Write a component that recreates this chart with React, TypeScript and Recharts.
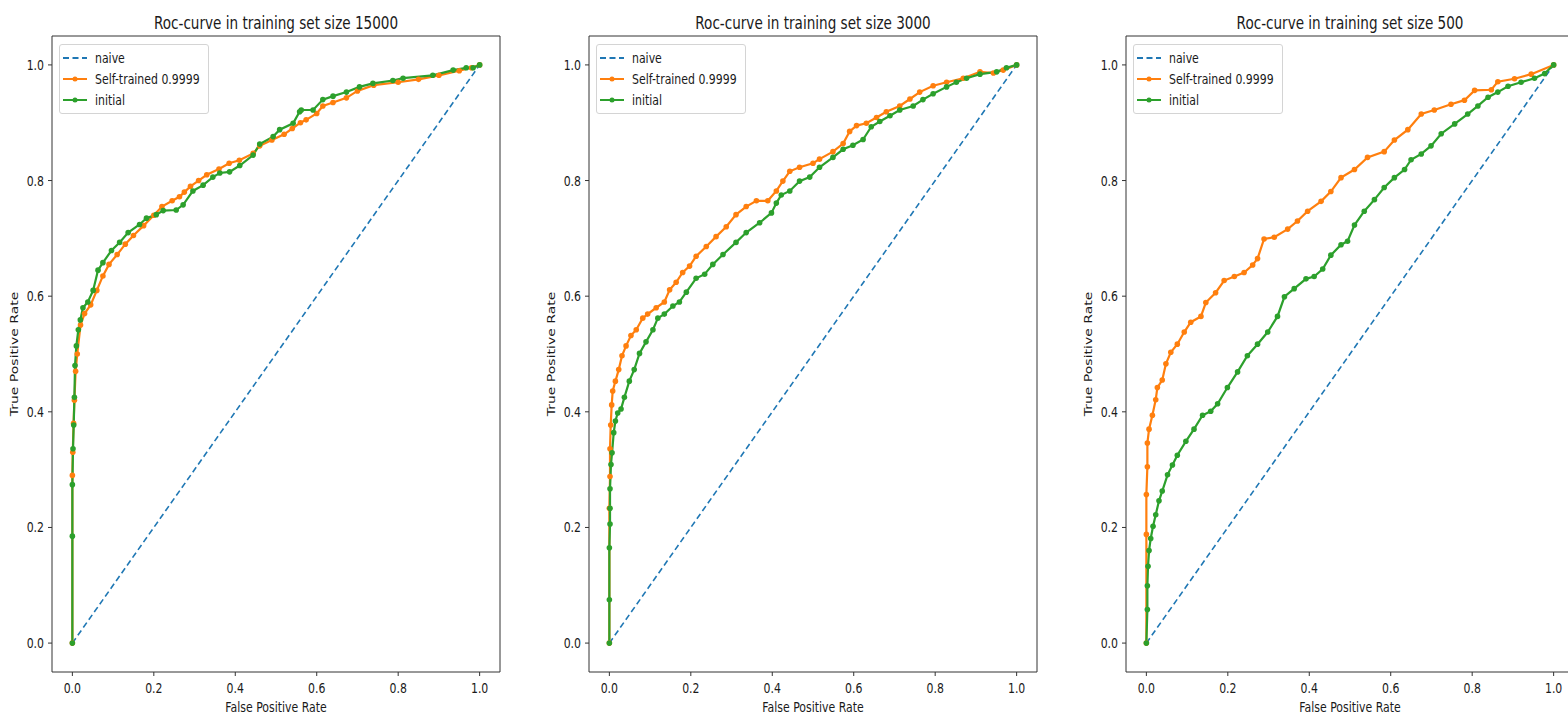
import React from 'react';
import { LineChart, Line, XAxis, YAxis, ReferenceArea, Legend } from 'recharts';

// ---------- data ----------
const naiveFpr = [0, 1];
const naiveTpr = [0, 1];

// training set size 15000
const fpr15000Self = [
  0, 0, 0.001, 0.003, 0.005, 0.008, 0.012, 0.02, 0.03, 0.045,
  0.06, 0.075, 0.09, 0.11, 0.13, 0.15, 0.175, 0.2, 0.22, 0.245,
  0.263, 0.275, 0.29, 0.31, 0.33, 0.36, 0.385, 0.41, 0.444, 0.46,
  0.49, 0.52, 0.54, 0.56, 0.574, 0.6, 0.615, 0.64, 0.673, 0.7,
  0.74, 0.8, 0.85, 0.9, 0.95, 0.98, 1,
];
const tpr15000Self = [
  0, 0.29, 0.33, 0.38, 0.42, 0.47, 0.5, 0.55, 0.57, 0.585,
  0.61, 0.635, 0.655, 0.672, 0.69, 0.705, 0.722, 0.74, 0.755, 0.765,
  0.772, 0.78, 0.79, 0.8, 0.81, 0.82, 0.83, 0.835, 0.847, 0.86,
  0.87, 0.88, 0.89, 0.9, 0.905, 0.916, 0.929, 0.935, 0.943, 0.955,
  0.965, 0.97, 0.975, 0.982, 0.99, 0.995, 1,
];
const fpr15000Init = [
  0, 0, 0, 0.0016, 0.0033, 0.005, 0.0065, 0.0098, 0.0147, 0.0196,
  0.026, 0.038, 0.051, 0.063, 0.075, 0.096, 0.116, 0.137, 0.165, 0.182,
  0.206, 0.223, 0.255, 0.272, 0.296, 0.321, 0.345, 0.362, 0.386, 0.411,
  0.444, 0.46, 0.493, 0.509, 0.542, 0.558, 0.562, 0.591, 0.615, 0.64,
  0.673, 0.705, 0.738, 0.787, 0.812, 0.885, 0.935, 0.967, 0.984, 1,
];
const tpr15000Init = [
  0, 0.185, 0.274, 0.336, 0.377, 0.425, 0.48, 0.514, 0.542, 0.559,
  0.58, 0.59, 0.61, 0.645, 0.658, 0.679, 0.693, 0.71, 0.724, 0.735,
  0.741, 0.748, 0.749, 0.758, 0.782, 0.792, 0.806, 0.813, 0.815, 0.826,
  0.844, 0.863, 0.876, 0.888, 0.899, 0.919, 0.922, 0.922, 0.94, 0.946,
  0.953, 0.962, 0.968, 0.973, 0.977, 0.982, 0.991, 0.995, 0.995, 1,
];

// training set size 3000
const fpr3000Self = [
  0, 0, 0.0016, 0.0016, 0.0033, 0.0057, 0.0082, 0.0148, 0.023, 0.031,
  0.041, 0.053, 0.066, 0.082, 0.094, 0.115, 0.135, 0.148, 0.164, 0.18,
  0.197, 0.213, 0.238, 0.262, 0.287, 0.311, 0.336, 0.361, 0.389, 0.41,
  0.426, 0.443, 0.467, 0.5, 0.516, 0.549, 0.574, 0.59, 0.607, 0.631,
  0.656, 0.68, 0.713, 0.738, 0.762, 0.795, 0.828, 0.869, 0.91, 0.943,
  0.967, 1,
];
const tpr3000Self = [
  0, 0.233, 0.288, 0.336, 0.377, 0.412, 0.436, 0.453, 0.473, 0.497,
  0.514, 0.532, 0.542, 0.562, 0.569, 0.58, 0.59, 0.611, 0.624, 0.641,
  0.652, 0.669, 0.686, 0.703, 0.72, 0.741, 0.755, 0.765, 0.765, 0.782,
  0.799, 0.816, 0.823, 0.83, 0.837, 0.85, 0.864, 0.885, 0.895, 0.899,
  0.909, 0.919, 0.929, 0.941, 0.953, 0.964, 0.97, 0.977, 0.988, 0.986,
  0.991, 1,
];
const fpr3000Init = [
  0, 0, 0, 0.0016, 0.0016, 0.0016, 0.004, 0.0066, 0.0107, 0.0148,
  0.0205, 0.0287, 0.0369, 0.049, 0.061, 0.074, 0.09, 0.107, 0.119, 0.135,
  0.156, 0.172, 0.189, 0.213, 0.234, 0.254, 0.279, 0.311, 0.336, 0.369,
  0.398, 0.41, 0.422, 0.443, 0.467, 0.492, 0.516, 0.549, 0.574, 0.598,
  0.623, 0.643, 0.664, 0.689, 0.713, 0.746, 0.77, 0.795, 0.828, 0.852,
  0.877, 0.91, 0.951, 0.975, 1,
];
const tpr3000Init = [
  0, 0.075, 0.165, 0.206, 0.233, 0.267, 0.309, 0.329, 0.364, 0.384,
  0.398, 0.405, 0.425, 0.453, 0.473, 0.501, 0.521, 0.542, 0.562, 0.569,
  0.583, 0.59, 0.607, 0.631, 0.638, 0.655, 0.672, 0.693, 0.71, 0.727,
  0.744, 0.761, 0.775, 0.782, 0.799, 0.806, 0.823, 0.84, 0.854, 0.861,
  0.871, 0.893, 0.902, 0.912, 0.922, 0.929, 0.94, 0.95, 0.962, 0.97,
  0.977, 0.984, 0.988, 0.995, 1,
];

// training set size 500
const fpr500Self = [
  0, 0, 0, 0.0025, 0.0025, 0.0066, 0.0148, 0.023, 0.027, 0.039,
  0.048, 0.06, 0.076, 0.093, 0.109, 0.134, 0.146, 0.17, 0.191, 0.216,
  0.24, 0.261, 0.273, 0.289, 0.314, 0.347, 0.371, 0.396, 0.429, 0.453,
  0.478, 0.511, 0.543, 0.584, 0.609, 0.642, 0.675, 0.707, 0.748, 0.781,
  0.806, 0.847, 0.863, 0.904, 0.945, 1,
];
const tpr500Self = [
  0, 0.188, 0.257, 0.305, 0.346, 0.37, 0.394, 0.421, 0.442, 0.455,
  0.483, 0.503, 0.517, 0.538, 0.555, 0.565, 0.589, 0.606, 0.627, 0.634,
  0.641, 0.654, 0.665, 0.699, 0.702, 0.716, 0.73, 0.747, 0.764, 0.781,
  0.805, 0.819, 0.84, 0.85, 0.87, 0.888, 0.915, 0.922, 0.932, 0.939,
  0.956, 0.957, 0.971, 0.976, 0.984, 1,
];
const fpr500Init = [
  0, 0.0025, 0.0025, 0.0041, 0.0066, 0.0107, 0.0164, 0.023, 0.031, 0.039,
  0.052, 0.064, 0.076, 0.097, 0.117, 0.138, 0.158, 0.175, 0.199, 0.224,
  0.248, 0.273, 0.298, 0.322, 0.339, 0.363, 0.392, 0.412, 0.433, 0.453,
  0.478, 0.494, 0.511, 0.535, 0.56, 0.584, 0.609, 0.634, 0.65, 0.675,
  0.699, 0.724, 0.757, 0.789, 0.814, 0.839, 0.863, 0.888, 0.92, 0.953,
  0.978, 1,
];
const tpr500Init = [
  0, 0.058, 0.099, 0.133, 0.16, 0.181, 0.202, 0.222, 0.246, 0.263,
  0.291, 0.308, 0.325, 0.349, 0.37, 0.394, 0.401, 0.414, 0.442, 0.469,
  0.497, 0.517, 0.538, 0.565, 0.599, 0.613, 0.63, 0.634, 0.647, 0.671,
  0.689, 0.695, 0.723, 0.747, 0.767, 0.788, 0.805, 0.819, 0.836, 0.846,
  0.86, 0.881, 0.898, 0.915, 0.929, 0.944, 0.953, 0.963, 0.97, 0.977,
  0.985, 1,
];

const titles = [
  'Roc-curve in training set size 15000',
  'Roc-curve in training set size 3000',
  'Roc-curve in training set size 500',
];
const seriesNames = ['naive', 'Self-trained 0.9999', 'initial'];
const axisTicks = [0, 0.2, 0.4, 0.6, 0.8, 1.0];
const xLabel = 'False Positive Rate';
const yLabel = 'True Positive Rate';

// ---------- styling ----------
const SX = 0.78;
const FONT = '"DejaVu Sans", "Liberation Sans", sans-serif';
const TXT = '#1a1a1a';
const BLUE = '#1f77b4';
const ORANGE = '#ff7f0e';
const GREEN = '#2ca02c';
const PLOT_W = 448;
const PLOT_TOP = 36;
const PLOT_BOTTOM = 672;
const Y_AXIS_W = 52;
const panelLefts = [52, 589, 1126];

const zip = (xs: number[], ys: number[]) => xs.map((x, i) => ({ x, y: ys[i] }));

const panels = [
  { title: titles[0], self: zip(fpr15000Self, tpr15000Self), init: zip(fpr15000Init, tpr15000Init) },
  { title: titles[1], self: zip(fpr3000Self, tpr3000Self), init: zip(fpr3000Init, tpr3000Init) },
  { title: titles[2], self: zip(fpr500Self, tpr500Self), init: zip(fpr500Init, tpr500Init) },
];
const naiveData = zip(naiveFpr, naiveTpr);

const XTick = (props: any) => {
  const { x, y, payload } = props;
  return (
    <g transform={`translate(${x},${y})`}>
      <text transform={`scale(${SX},1)`} textAnchor="middle" dy="0.71em" fontSize={14} fill={TXT} fontFamily={FONT}>
        {Number(payload.value).toFixed(1)}
      </text>
    </g>
  );
};

const YTick = (props: any) => {
  const { x, y, payload } = props;
  return (
    <g transform={`translate(${x},${y})`}>
      <text transform={`scale(${SX},1)`} textAnchor="end" dy="0.355em" fontSize={14} fill={TXT} fontFamily={FONT}>
        {Number(payload.value).toFixed(1)}
      </text>
    </g>
  );
};

const rowCenters = [12.7, 33.7, 55.3];
const rowColors = [BLUE, ORANGE, GREEN];

const LegendBox = () => (
  <div
    style={{
      width: 150,
      height: 70,
      boxSizing: 'border-box',
      border: '1px solid #d4d4d4',
      borderRadius: 3,
      background: 'rgba(255,255,255,0.85)',
      position: 'relative',
      fontFamily: FONT,
    }}
  >
    {seriesNames.map((name, i) => (
      <div key={name}>
        <svg
          width={26}
          height={10}
          style={{ position: 'absolute', left: 2, top: rowCenters[i] - 5 }}
        >
          {i === 0 ? (
            <line x1={1} y1={5} x2={25} y2={5} stroke={BLUE} strokeWidth={2} strokeDasharray="6 3.5" />
          ) : (
            <g>
              <line x1={1} y1={5} x2={25} y2={5} stroke={rowColors[i]} strokeWidth={2} />
              <circle cx={13} cy={5} r={2.5} fill={rowColors[i]} />
            </g>
          )}
        </svg>
        <div
          style={{
            position: 'absolute',
            left: 35,
            top: rowCenters[i] - 9,
            height: 18,
            lineHeight: '18px',
            fontSize: 14,
            color: TXT,
            whiteSpace: 'nowrap',
            transform: `scaleX(${SX})`,
            transformOrigin: 'left center',
          }}
        >
          {name}
        </div>
      </div>
    ))}
  </div>
);

const Panel = ({ idx }: { idx: number }) => {
  const plotLeft = panelLefts[idx];
  const p = panels[idx];
  const chartW = Y_AXIS_W + PLOT_W + 10;
  return (
    <div style={{ position: 'absolute', left: plotLeft - Y_AXIS_W, top: 0 }}>
      <LineChart
        width={chartW}
        height={717}
        margin={{ top: PLOT_TOP, right: 10, bottom: 717 - PLOT_BOTTOM - 30, left: 0 }}
      >
        <XAxis
          type="number"
          dataKey="x"
          domain={[-0.05, 1.05]}
          ticks={axisTicks}
          allowDataOverflow
          height={30}
          axisLine={false}
          tickSize={4}
          tickMargin={7}
          tickLine={{ stroke: '#333' }}
          tick={<XTick />}
          interval={0}
        />
        <YAxis
          type="number"
          dataKey="y"
          domain={[-0.05, 1.05]}
          ticks={axisTicks}
          allowDataOverflow
          width={Y_AXIS_W}
          axisLine={false}
          tickSize={4}
          tickMargin={4}
          tickLine={{ stroke: '#333' }}
          tick={<YTick />}
          interval={0}
        />
        <ReferenceArea
          x1={-0.05}
          x2={1.05}
          y1={-0.05}
          y2={1.05}
          fill="none"
          stroke="#333"
          strokeWidth={1}
          ifOverflow="visible"
        />
        <Line
          data={naiveData}
          dataKey="y"
          name={seriesNames[0]}
          stroke={BLUE}
          strokeWidth={1.6}
          strokeDasharray="6 3.5"
          dot={false}
          activeDot={false}
          isAnimationActive={false}
        />
        <Line
          data={p.self}
          dataKey="y"
          name={seriesNames[1]}
          stroke={ORANGE}
          strokeWidth={2.2}
          dot={{ r: 2.8, fill: ORANGE, stroke: ORANGE, strokeWidth: 0 }}
          activeDot={false}
          isAnimationActive={false}
        />
        <Line
          data={p.init}
          dataKey="y"
          name={seriesNames[2]}
          stroke={GREEN}
          strokeWidth={2.2}
          dot={{ r: 2.8, fill: GREEN, stroke: GREEN, strokeWidth: 0 }}
          activeDot={false}
          isAnimationActive={false}
        />
        <Legend
          layout="vertical"
          align="center"
          verticalAlign="middle"
          content={() => <LegendBox />}
          wrapperStyle={{ left: Y_AXIS_W + 7, top: 44, width: 150, height: 70 }}
        />
      </LineChart>
    </div>
  );
};

export default function App() {
  return (
    <div
      style={{
        position: 'absolute',
        left: 0,
        top: 0,
        width: 1568,
        height: 717,
        overflow: 'hidden',
        background: '#fff',
      }}
    >
      {[0, 1, 2].map((i) => (
        <Panel key={i} idx={i} />
      ))}
      <svg
        width={1568}
        height={717}
        style={{ position: 'absolute', left: 0, top: 0, pointerEvents: 'none' }}
      >
        {panelLefts.map((pl, i) => {
          const cx = pl + PLOT_W / 2;
          return (
            <g key={i} fontFamily={FONT} fill={TXT}>
              <g transform={`translate(${cx},28.5) scale(${SX},1)`}>
                <text textAnchor="middle" fontSize={17.4}>{titles[i]}</text>
              </g>
              <g transform={`translate(${cx},712) scale(${SX},1)`}>
                <text textAnchor="middle" fontSize={14}>{xLabel}</text>
              </g>
              <g transform={`translate(${pl - 33.7},${(PLOT_TOP + PLOT_BOTTOM) / 2}) scale(${SX},1) rotate(-90)`}>
                <text textAnchor="middle" fontSize={14}>{yLabel}</text>
              </g>
            </g>
          );
        })}
      </svg>
    </div>
  );
}
